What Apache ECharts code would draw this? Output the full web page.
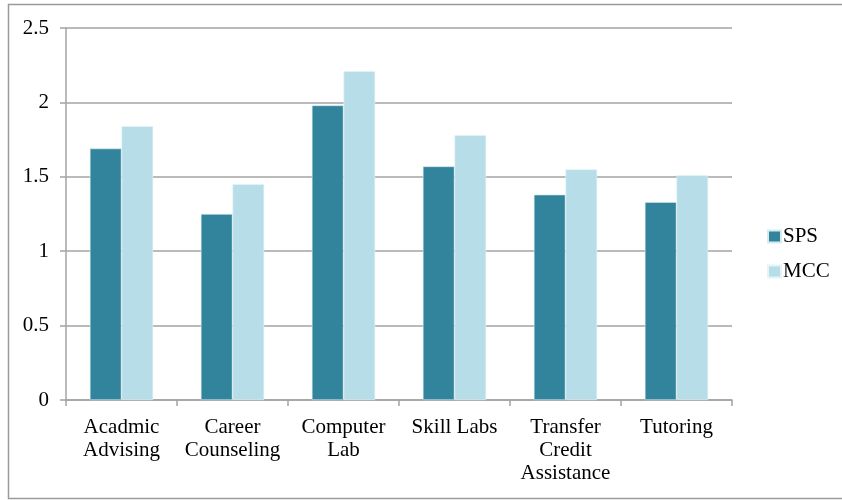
<!DOCTYPE html>
<html>
<head>
<meta charset="utf-8">
<script src="https://cdn.jsdelivr.net/npm/echarts@6/dist/echarts.min.js"></script>
<style>
  html, body { margin: 0; padding: 0; background: #fff; }
  #chart { width: 842px; height: 500px; }
</style>
</head>
<body>
<div id="chart"></div>
<script>
// Services compared across the two schools
const categories = ['Acadmic\nAdvising', 'Career\nCounseling', 'Computer\nLab', 'Skill Labs', 'Transfer\nCredit\nAssistance', 'Tutoring'];
const spsValues = [1.69, 1.25, 1.98, 1.57, 1.38, 1.33];
const mccValues = [1.84, 1.45, 2.21, 1.78, 1.55, 1.51];
const seriesNames = ['SPS', 'MCC'];

const FONT = '"Liberation Serif", "Times New Roman", serif';
const GRID_COLOR = '#a3a3a3';

const chart = echarts.init(document.getElementById('chart'), null, { renderer: 'canvas' });

chart.setOption({
  animation: false,
  backgroundColor: '#ffffff',
  textStyle: { fontFamily: FONT, color: '#000' },
  graphic: [{
    type: 'rect',
    shape: { x: 8.5, y: 4.5, width: 850, height: 494 },
    style: { fill: 'none', stroke: '#9a9a9a', lineWidth: 1.5 },
    silent: true,
    z: -1
  }],
  grid: { left: 66, right: 110, top: 28, bottom: 100, containLabel: false },
  legend: {
    orient: 'vertical',
    left: 762,
    top: 221,
    itemWidth: 13,
    itemHeight: 12,
    itemGap: 14,
    icon: 'rect',
    textStyle: { fontFamily: FONT, fontSize: 21, color: '#000', padding: [0, 0, 0, -3] },
    data: seriesNames
  },
  xAxis: {
    type: 'category',
    data: categories,
    axisLine: { show: true, lineStyle: { color: GRID_COLOR, width: 1.5 } },
    axisTick: { show: true, length: 6, lineStyle: { color: GRID_COLOR, width: 1.5 } },
    axisLabel: {
      interval: 0,
      margin: 16,
      fontFamily: FONT,
      fontSize: 21,
      lineHeight: 23,
      color: '#000'
    }
  },
  yAxis: {
    type: 'value',
    min: 0,
    max: 2.5,
    interval: 0.5,
    axisLine: { show: true, lineStyle: { color: GRID_COLOR, width: 1.5 } },
    axisTick: { show: true, length: 6, lineStyle: { color: GRID_COLOR, width: 1.5 } },
    splitLine: { show: true, lineStyle: { color: GRID_COLOR, width: 1.5 } },
    axisLabel: { margin: 17, fontFamily: FONT, fontSize: 21, color: '#000' }
  },
  series: [
    {
      name: seriesNames[0],
      type: 'bar',
      data: spsValues,
      barGap: '0%',
      barCategoryGap: '43%',
      itemStyle: { color: '#31849b', borderColor: '#d5ebf1', borderWidth: 0.6 }
    },
    {
      name: seriesNames[1],
      type: 'bar',
      data: mccValues,
      itemStyle: { color: '#b7dde8', borderColor: '#e6f3f7', borderWidth: 0.6 }
    }
  ]
});
</script>
</body>
</html>
